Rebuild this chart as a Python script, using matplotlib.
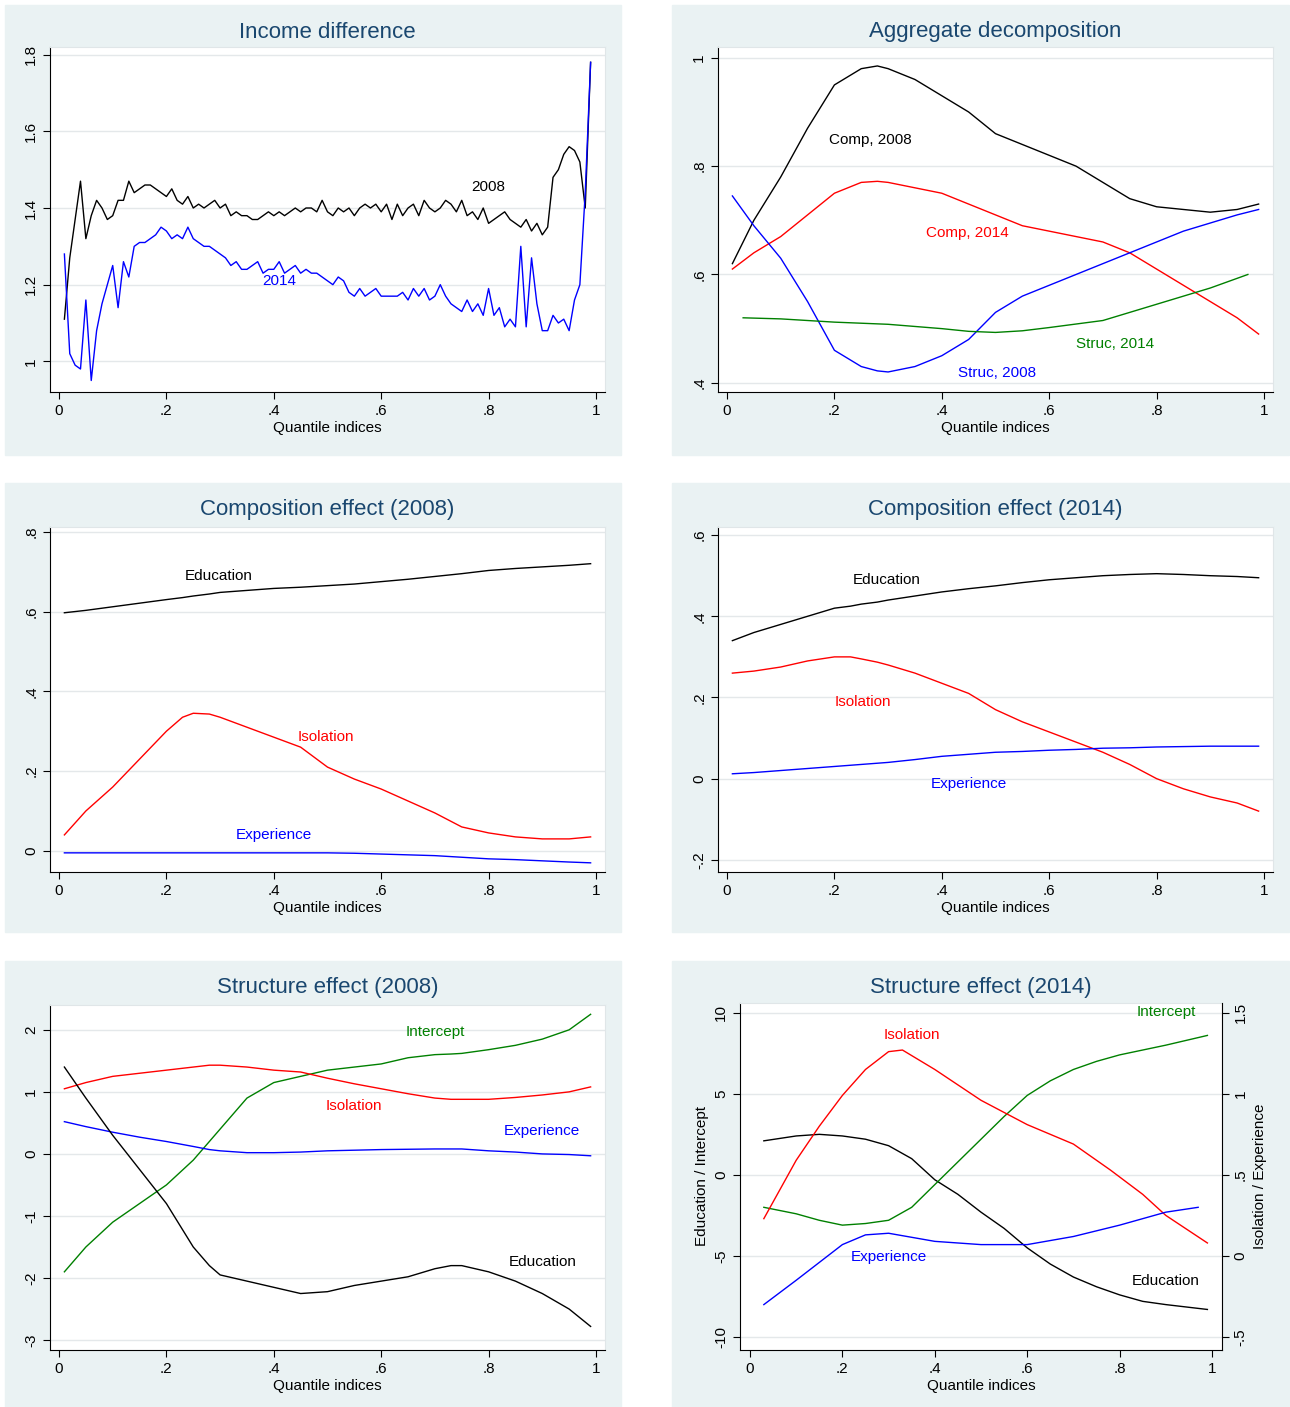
import numpy as np
import matplotlib
matplotlib.use("Agg")
import matplotlib.pyplot as plt
from matplotlib.patches import Rectangle

plt.rcParams['font.family'] = ['Liberation Sans', 'DejaVu Sans']

# ---- panel 1: income difference (quantiles .01 .. .99)
inc_2008 = [1.11, 1.27, 1.37, 1.47, 1.32, 1.38, 1.42, 1.40, 1.37, 1.38,
            1.42, 1.42, 1.47, 1.44, 1.45, 1.46, 1.46, 1.45, 1.44, 1.43,
            1.45, 1.42, 1.41, 1.43, 1.40, 1.41, 1.40, 1.41, 1.42, 1.40,
            1.41, 1.38, 1.39, 1.38, 1.38, 1.37, 1.37, 1.38, 1.39, 1.38,
            1.39, 1.38, 1.39, 1.40, 1.39, 1.40, 1.40, 1.39, 1.42, 1.39,
            1.38, 1.40, 1.39, 1.40, 1.38, 1.40, 1.41, 1.40, 1.41, 1.39,
            1.41, 1.37, 1.41, 1.38, 1.40, 1.41, 1.38, 1.42, 1.40, 1.39,
            1.40, 1.42, 1.41, 1.39, 1.42, 1.38, 1.39, 1.37, 1.40, 1.36,
            1.37, 1.38, 1.39, 1.37, 1.36, 1.35, 1.37, 1.34, 1.36, 1.33,
            1.35, 1.48, 1.50, 1.54, 1.56, 1.55, 1.52, 1.40, 1.78]
inc_2014 = [1.28, 1.02, 0.99, 0.98, 1.16, 0.95, 1.08, 1.15, 1.20, 1.25,
            1.14, 1.26, 1.22, 1.30, 1.31, 1.31, 1.32, 1.33, 1.35, 1.34,
            1.32, 1.33, 1.32, 1.35, 1.32, 1.31, 1.30, 1.30, 1.29, 1.28,
            1.27, 1.25, 1.26, 1.24, 1.24, 1.25, 1.26, 1.23, 1.24, 1.24,
            1.26, 1.23, 1.24, 1.25, 1.23, 1.24, 1.23, 1.23, 1.22, 1.21,
            1.20, 1.22, 1.21, 1.18, 1.17, 1.19, 1.17, 1.18, 1.19, 1.17,
            1.17, 1.17, 1.17, 1.18, 1.16, 1.19, 1.17, 1.19, 1.16, 1.17,
            1.20, 1.17, 1.15, 1.14, 1.13, 1.16, 1.13, 1.15, 1.12, 1.19,
            1.12, 1.14, 1.09, 1.11, 1.09, 1.30, 1.09, 1.27, 1.15, 1.08,
            1.08, 1.12, 1.10, 1.11, 1.08, 1.16, 1.20, 1.44, 1.78]
q_inc = np.linspace(0.01, 0.99, len(inc_2008))

# ---- panel 2: aggregate decomposition
q_agg = [.01, .05, .1, .15, .2, .25, .28, .3, .35, .4, .45, .5, .55, .6, .65, .7, .75, .8, .85, .9, .95, .99]
comp_2008 = [.62, .70, .78, .87, .95, .98, .985, .98, .96, .93, .90, .86, .84, .82, .80, .77, .74, .725, .72, .715, .72, .73]
comp_2014 = [.61, .64, .67, .71, .75, .77, .772, .77, .76, .75, .73, .71, .69, .68, .67, .66, .64, .61, .58, .55, .52, .49]
struc_2008 = [.745, .69, .63, .55, .46, .43, .422, .42, .43, .45, .48, .53, .56, .58, .60, .62, .64, .66, .68, .695, .71, .72]
q_s14 = [.03, .1, .2, .3, .4, .45, .5, .55, .6, .7, .8, .9, .97]
struc_2014 = [.52, .518, .512, .508, .500, .495, .493, .496, .502, .515, .545, .575, .60]

# ---- panels 3/4: composition effects
q_c = [.01, .05, .1, .15, .2, .23, .25, .28, .3, .35, .4, .45, .5, .55, .6, .65, .7, .75, .8, .85, .9, .95, .99]
c08_edu = [.597, .603, .612, .621, .630, .635, .639, .644, .648, .653, .658, .661, .665, .669, .675, .681, .688, .695, .703, .708, .712, .716, .72]
c08_iso = [.04, .10, .16, .23, .30, .335, .345, .343, .335, .31, .285, .26, .21, .18, .155, .125, .095, .06, .045, .035, .03, .03, .035]
c08_exp = [-.005, -.005, -.005, -.005, -.005, -.005, -.005, -.005, -.005, -.005, -.005, -.005, -.005, -.006, -.008, -.010, -.012, -.016, -.02, -.022, -.025, -.028, -.03]
c14_edu = [.34, .36, .38, .40, .42, .425, .43, .435, .44, .45, .46, .468, .475, .483, .49, .495, .50, .503, .505, .503, .50, .498, .495]
c14_iso = [.26, .265, .275, .29, .30, .30, .295, .287, .28, .26, .235, .21, .17, .14, .115, .09, .065, .035, .0, -.025, -.045, -.06, -.08]
c14_exp = [.012, .015, .02, .025, .03, .033, .035, .038, .04, .047, .055, .06, .065, .067, .07, .072, .075, .076, .078, .079, .08, .08, .08]

# ---- panel 5: structure effect 2008
q_s = [.01, .05, .1, .15, .2, .25, .28, .3, .35, .4, .45, .5, .55, .6, .65, .7, .73, .75, .8, .85, .9, .95, .99]
s08_int = [-1.9, -1.5, -1.1, -0.8, -0.5, -0.1, 0.2, 0.4, 0.9, 1.15, 1.25, 1.35, 1.4, 1.45, 1.55, 1.6, 1.61, 1.62, 1.68, 1.75, 1.85, 2.0, 2.25]
s08_iso = [1.05, 1.15, 1.25, 1.30, 1.35, 1.40, 1.43, 1.43, 1.40, 1.35, 1.32, 1.22, 1.13, 1.05, 0.97, 0.9, 0.88, 0.88, 0.88, 0.91, 0.95, 1.0, 1.08]
s08_exp = [.52, .44, .35, .27, .20, .12, .07, .05, .02, .02, .03, .05, .06, .07, .075, .08, .08, .08, .05, .03, .0, -.01, -.03]
s08_edu = [1.4, 0.9, 0.3, -0.25, -0.8, -1.5, -1.8, -1.95, -2.05, -2.15, -2.25, -2.22, -2.12, -2.05, -1.98, -1.85, -1.8, -1.8, -1.9, -2.05, -2.25, -2.5, -2.78]

# ---- panel 6: structure effect 2014 (edu/int left axis, iso/exp right axis)
q_6 = [.03, .1, .15, .2, .25, .3, .35, .4, .45, .5, .55, .6, .65, .7, .75, .8, .85, .9, .99]
s14_edu = [2.1, 2.4, 2.5, 2.4, 2.2, 1.8, 1.0, -0.3, -1.2, -2.3, -3.3, -4.5, -5.5, -6.3, -6.9, -7.4, -7.8, -8.0, -8.3]
s14_int = [-2.0, -2.4, -2.8, -3.1, -3.0, -2.8, -2.0, -0.6, 0.8, 2.2, 3.6, 4.9, 5.8, 6.5, 7.0, 7.4, 7.7, 8.0, 8.6]
q_6r = [.03, .1, .15, .2, .25, .3, .33, .4, .5, .6, .7, .78, .85, .9, .99]
s14_iso = [0.23, 0.59, 0.80, 0.99, 1.15, 1.26, 1.27, 1.15, 0.96, 0.81, 0.69, 0.53, 0.38, 0.25, 0.08]
q_6e = [.03, .1, .2, .25, .3, .4, .5, .6, .7, .8, .9, .97]
s14_exp = [-0.30, -0.15, 0.07, 0.13, 0.14, 0.09, 0.07, 0.07, 0.12, 0.19, 0.27, 0.30]

W, H = 1290, 1407
fig = plt.figure(figsize=(W / 100, H / 100), dpi=100)
BG = '#eaf2f3'
TITLE = '#1a476f'

# background axes for the panel boxes
bg = fig.add_axes([0, 0, 1, 1], zorder=-10)
bg.set_xlim(0, W)
bg.set_ylim(H, 0)
bg.axis('off')


def px(x0, y0, x1, y1):
    return [x0 / W, 1 - y1 / H, (x1 - x0) / W, (y1 - y0) / H]


def fmt(v):
    s = ('%g' % round(v, 6))
    if s.startswith('0.'):
        s = s[1:]
    elif s.startswith('-0.'):
        s = '-' + s[2:]
    return s


def panel(box, area, title, yticks, ylim, xlim=(-0.0168, 1.0168)):
    x0, y0, x1, y1 = box
    bg.add_patch(Rectangle((x0, y0), x1 - x0, y1 - y0, color=BG))
    bg.text((area[0] + area[2]) / 2, y0 + 27, title, ha='center', va='center',
            fontsize=16, color=TITLE)
    ax = fig.add_axes(px(*area))
    ax.set_xlim(*xlim)
    ax.set_ylim(*ylim)
    ax.set_xticks([0, .2, .4, .6, .8, 1])
    ax.set_xticklabels(['0', '.2', '.4', '.6', '.8', '1'], fontsize=11)
    ax.set_yticks(yticks)
    ax.set_yticklabels([fmt(v) for v in yticks], fontsize=11, rotation=90, va='center')
    ax.set_xlabel('Quantile indices', fontsize=11, labelpad=2)
    ax.yaxis.grid(True, color='#e4e8ea', lw=1)
    ax.set_axisbelow(True)
    for s in ax.spines.values():
        s.set_color('#e0e6e8')
    ax.spines['left'].set_color('black')
    ax.spines['bottom'].set_color('black')
    ax.tick_params(length=5, width=0.8)
    return ax


# panel 1
ax = panel((5, 5, 621, 455), (50, 47, 605, 392), 'Income difference', [1, 1.2, 1.4, 1.6, 1.8], (0.92, 1.82))
ax.plot(q_inc, inc_2008, color='black', lw=1)
ax.plot(q_inc, inc_2014, color='blue', lw=1)
ax.text(.80, 1.445, '2008', color='black', ha='center', fontsize=11)
ax.text(.41, 1.2, '2014', color='blue', ha='center', fontsize=11)

# panel 2
ax = panel((672, 5, 1289, 455), (718, 47, 1273, 392), 'Aggregate decomposition', [.4, .6, .8, 1], (0.383, 1.02))
ax.plot(q_agg, comp_2008, color='black', lw=1)
ax.plot(q_agg, comp_2014, color='red', lw=1)
ax.plot(q_agg, struc_2008, color='blue', lw=1)
ax.plot(q_s14, struc_2014, color='green', lw=1)
ax.text(.19, .84, 'Comp, 2008', color='black', fontsize=11)
ax.text(.37, .67, 'Comp, 2014', color='red', fontsize=11)
ax.text(.65, .465, 'Struc, 2014', color='green', fontsize=11)
ax.text(.43, .41, 'Struc, 2008', color='blue', fontsize=11)

# panel 3
ax = panel((5, 483, 621, 932), (50, 527, 605, 872), 'Composition effect (2008)', [0, .2, .4, .6, .8], (-0.053, 0.812))
ax.plot(q_c, c08_edu, color='black', lw=1)
ax.plot(q_c, c08_iso, color='red', lw=1)
ax.plot(q_c, c08_exp, color='blue', lw=1)
ax.text(.235, .68, 'Education', color='black', fontsize=11)
ax.text(.445, .275, 'Isolation', color='red', fontsize=11)
ax.text(.33, .03, 'Experience', color='blue', fontsize=11)

# panel 4
ax = panel((672, 483, 1289, 932), (718, 527, 1273, 872), 'Composition effect (2014)', [-.2, 0, .2, .4, .6], (-0.23, 0.62))
ax.plot(q_c, c14_edu, color='black', lw=1)
ax.plot(q_c, c14_iso, color='red', lw=1)
ax.plot(q_c, c14_exp, color='blue', lw=1)
ax.text(.235, .48, 'Education', color='black', fontsize=11)
ax.text(.2, .18, 'Isolation', color='red', fontsize=11)
ax.text(.38, -.022, 'Experience', color='blue', fontsize=11)

# panel 5
ax = panel((5, 961, 621, 1407), (50, 1005, 605, 1350), 'Structure effect (2008)', [-3, -2, -1, 0, 1, 2], (-3.16, 2.4))
ax.plot(q_s, s08_int, color='green', lw=1)
ax.plot(q_s, s08_iso, color='red', lw=1)
ax.plot(q_s, s08_exp, color='blue', lw=1)
ax.plot(q_s, s08_edu, color='black', lw=1)
ax.text(.70, 1.9, 'Intercept', color='green', fontsize=11, ha='center')
ax.text(.55, 0.7, 'Isolation', color='red', fontsize=11, ha='center')
ax.text(.90, 0.3, 'Experience', color='blue', fontsize=11, ha='center')
ax.text(.90, -1.8, 'Education', color='black', fontsize=11, ha='center')

# panel 6
ax = panel((672, 961, 1289, 1407), (740, 1003, 1222, 1350), 'Structure effect (2014)', [-10, -5, 0, 5, 10],
           (-10.8, 10.6), xlim=(-0.0216, 1.0216))
ax.set_ylabel('Education / Intercept', fontsize=11)
ax.plot(q_6, s14_edu, color='black', lw=1)
ax.plot(q_6, s14_int, color='green', lw=1)
ax.text(.35, 8.4, 'Isolation', color='red', fontsize=11, ha='center')
ax.text(.90, 9.8, 'Intercept', color='green', fontsize=11, ha='center')
ax.text(.30, -5.3, 'Experience', color='blue', fontsize=11, ha='center')
ax.text(.90, -6.8, 'Education', color='black', fontsize=11, ha='center')
ax2 = ax.twinx()
ax2.set_ylim(-10.8 / 10 + 0.5, 10.6 / 10 + 0.5)
ax2.set_yticks([-.5, 0, .5, 1, 1.5])
ax2.set_yticklabels(['-.5', '0', '.5', '1', '1.5'], fontsize=11, rotation=90, va='center')
ax2.set_ylabel('Isolation / Experience', fontsize=11)
for s in ax2.spines.values():
    s.set_visible(False)
ax2.spines['right'].set_visible(True)
ax2.spines['right'].set_color('black')
ax2.tick_params(length=5, width=0.8)
ax2.plot(q_6r, s14_iso, color='red', lw=1)
ax2.plot(q_6e, s14_exp, color='blue', lw=1)

fig.savefig('out.png', dpi=100)
